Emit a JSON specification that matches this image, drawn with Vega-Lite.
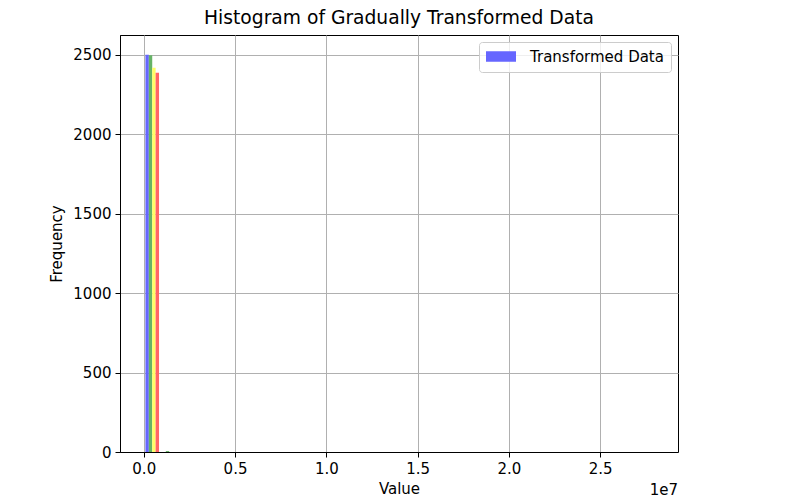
{
  "$schema": "https://vega.github.io/schema/vega-lite/v6.json",
  "width": 558,
  "height": 417,
  "autosize": {"type": "none"},
  "padding": {"left": 120, "top": 35, "right": 118, "bottom": 50},
  "background": "white",
  "title": {
    "text": "Histogram of Gradually Transformed Data",
    "fontSize": 18.7,
    "fontWeight": "normal",
    "font": "DejaVu Sans",
    "color": "black",
    "anchor": "middle",
    "offset": 7
  },
  "config": {
    "font": "DejaVu Sans",
    "view": {"stroke": "black", "strokeWidth": 1},
    "axis": {
      "grid": true,
      "gridColor": "#b0b0b0",
      "gridWidth": 1,
      "tickColor": "black",
      "tickSize": 5,
      "domainColor": "black",
      "labelColor": "black",
      "labelFontSize": 15,
      "labelPadding": 4,
      "titleColor": "black",
      "titleFontSize": 15,
      "titleFontWeight": "normal"
    }
  },
  "data": {
    "values": [
      {"series": "Transformed Data", "start": 93000, "end": 279000, "count": 2500},
      {"series": "Series 2", "start": 279000, "end": 465000, "count": 2497},
      {"series": "Series 3", "start": 465000, "end": 651000, "count": 2419},
      {"series": "Series 4", "start": 651000, "end": 837000, "count": 2387},
      {"series": "Series 2", "start": 1209000, "end": 1395000, "count": 6}
    ]
  },
  "layer": [
    {
      "mark": {"type": "rect"},
      "encoding": {
        "x": {
          "field": "start",
          "type": "quantitative",
          "scale": {"domain": [-1300000, 29260000], "nice": false, "zero": false},
          "axis": {
            "title": "Value",
            "values": [0, 5000000, 10000000, 15000000, 20000000, 25000000],
            "labelExpr": "format(datum.value / 10000000, '.1f')",
            "titlePadding": 5
          }
        },
        "x2": {"field": "end"},
        "y": {
          "field": "count",
          "type": "quantitative",
          "scale": {"domain": [0, 2625], "nice": false},
          "axis": {
            "title": "Frequency",
            "values": [0, 500, 1000, 1500, 2000, 2500],
            "format": "d",
            "titlePadding": 8
          }
        },
        "y2": {"datum": 0},
        "color": {
          "field": "series",
          "type": "nominal",
          "scale": {
            "domain": ["Transformed Data", "Series 2", "Series 3", "Series 4"],
            "range": ["#6666ff", "#66b366", "#ffff66", "#ff6666"]
          },
          "legend": {
            "values": ["Transformed Data"],
            "title": null,
            "orient": "top-right",
            "offset": 7,
            "padding": 7,
            "symbolType": "M-1,-0.7H3V0.7H-1Z",
            "symbolSize": 225,
            "symbolStrokeWidth": 0,
            "labelFontSize": 15,
            "labelColor": "black",
            "labelOffset": 29,
            "strokeColor": "#cccccc",
            "fillColor": "rgba(255,255,255,0.8)",
            "cornerRadius": 3
          }
        }
      }
    },
    {
      "data": {"values": [{"label": "1e7"}]},
      "mark": {"type": "text", "align": "right", "baseline": "alphabetic", "dy": 43, "fontSize": 15, "color": "black"},
      "encoding": {
        "x": {"datum": 29260000, "type": "quantitative"},
        "y": {"datum": 0, "type": "quantitative"},
        "text": {"field": "label"}
      }
    }
  ]
}
